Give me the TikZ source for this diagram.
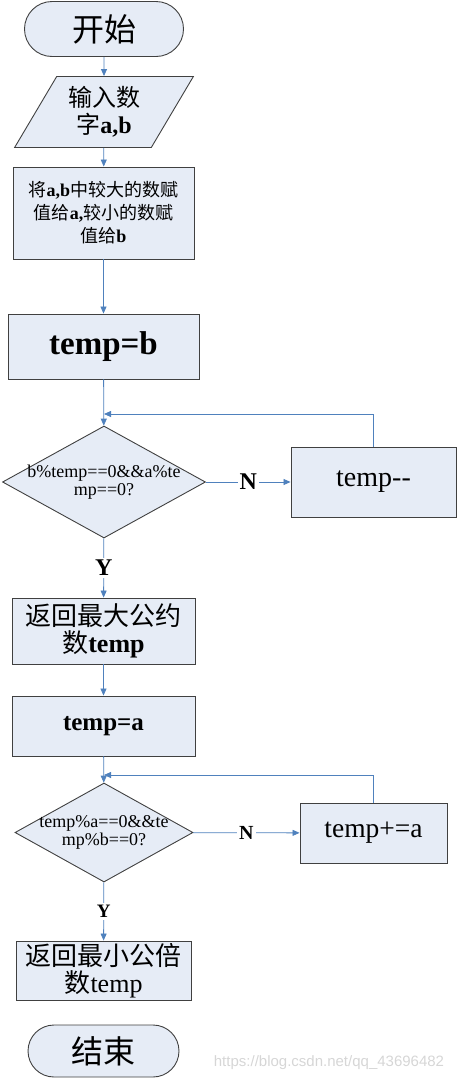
\documentclass[tikz,border=0pt]{standalone}
\usepackage{fontspec}
\setmainfont{Liberation Serif}
\newfontfamily\zh{Noto Sans CJK SC}
\newfontfamily\wm{Liberation Sans}
\usetikzlibrary{shapes.geometric, shapes.misc, arrows.meta}
\definecolor{boxfill}{RGB}{230,236,246}
\definecolor{boxline}{RGB}{64,64,64}
\definecolor{flow}{RGB}{79,129,189}
\newcommand{\fs}[1]{\fontsize{#1}{#1}\selectfont}

\begin{document}
\begin{tikzpicture}[x=1pt, y=-1pt,
    box/.style={draw=boxline, fill=boxfill, line width=0.9pt, rectangle, inner sep=0pt, align=center},
    term/.style={box, rounded rectangle},
    io/.style={box, trapezium, trapezium left angle=58, trapezium right angle=122, trapezium stretches=true},
    test/.style={box, diamond},
    arr/.style={draw=flow, line width=0.8pt, -{Triangle[length=7pt, width=6pt]}},
    yn/.style={fill=white, inner sep=2pt, font=\fs{24}\bfseries}]
    \useasboundingbox (0,0) rectangle (460,1082);

    \node[term, minimum width=159pt, minimum height=55pt] at (104,29)      (start)  {\zh\fs{32}开始};
    \node[io, minimum width=179pt, minimum height=71pt] at (104,112)       (in)     {{\zh\fs{24}输入数}\\[4pt]{\zh\fs{24}字}{\fs{24}\bfseries a,b}};
    \node[box, minimum width=181pt, minimum height=92pt] at (103.5,213)    (swap)   {\fs{18}{\zh 将}\textbf{a,b}{\zh 中较大的数赋}\\[4pt]\fs{18}{\zh 值给}\textbf{a,}{\zh 较小的数赋}\\[4pt]\fs{18}{\zh 值给}\textbf{b}};
    \node[box, minimum width=191pt, minimum height=65pt] at (103.5,346.5)  (tb)     {\fs{33}\bfseries temp=b};
    \node[test, minimum width=203pt, minimum height=112pt] at (104,482)    (gcd)    {};
    \node[align=center, inner sep=0pt] at (gcd.center)                     (gcdq)   {\fs{18}b\%temp==0\&\&a\%te\\[1pt]\fs{18}mp==0?};
    \node[box, minimum width=165pt, minimum height=70pt] at (373.5,482)    (dec)    {\fs{28}temp-{}-};
    \node[box, minimum width=183pt, minimum height=66pt] at (103.5,631)    (outg)   {{\zh\fs{26}返回最大公约}\\[2pt]{\zh\fs{26}数}{\fs{26}\bfseries temp}};
    \node[box, minimum width=183pt, minimum height=60pt] at (103.5,726)    (ta)     {\fs{25}\bfseries temp=a};
    \node[test, minimum width=178pt, minimum height=99pt] at (104,832.5)   (lcm)    {};
    \node[align=center, inner sep=0pt] at (lcm.center)                     (lcmq)   {\fs{18}temp\%a==0\&\&te\\[1pt]\fs{18}mp\%b==0?};
    \node[box, minimum width=147pt, minimum height=60pt] at (373.5,833)    (inc)    {\fs{27.5}temp+=a};
    \node[box, minimum width=175pt, minimum height=59pt] at (103.5,970.5)  (outl)   {{\zh\fs{26}返回最小公倍}\\[2pt]{\zh\fs{26}数}{\fs{26}temp}};
    \node[term, minimum width=151pt, minimum height=52pt] at (103.5,1051)  (stop)   {\zh\fs{32}结束};
    \node[text=black!16, font=\wm\fs{15}] at (329,1063)                    (mark)   {https://blog.csdn.net/qq\_43696482};

    \coordinate (back1) at (104,414);
    \coordinate (back2) at (104,775);

    \draw[arr] (start) -- (in);
    \draw[arr] (in) -- (swap);
    \draw[arr] (swap) -- (tb);
    \draw[arr] (tb) -- (gcd);
    \draw[arr] (gcd) -- node[yn] {N} (dec);
    \draw[arr] (dec.north) |- (back1);
    \draw[arr] (gcd) -- node[yn] {Y} (outg);
    \draw[arr] (outg) -- (ta);
    \draw[arr] (ta) -- (lcm);
    \draw[arr] (lcm) -- node[yn, font=\fs{20}\bfseries] {N} (inc);
    \draw[arr] (inc.north) |- (back2);
    \draw[arr] (lcm) -- node[yn, font=\fs{19}\bfseries] {Y} (outl);
\end{tikzpicture}
\end{document}
